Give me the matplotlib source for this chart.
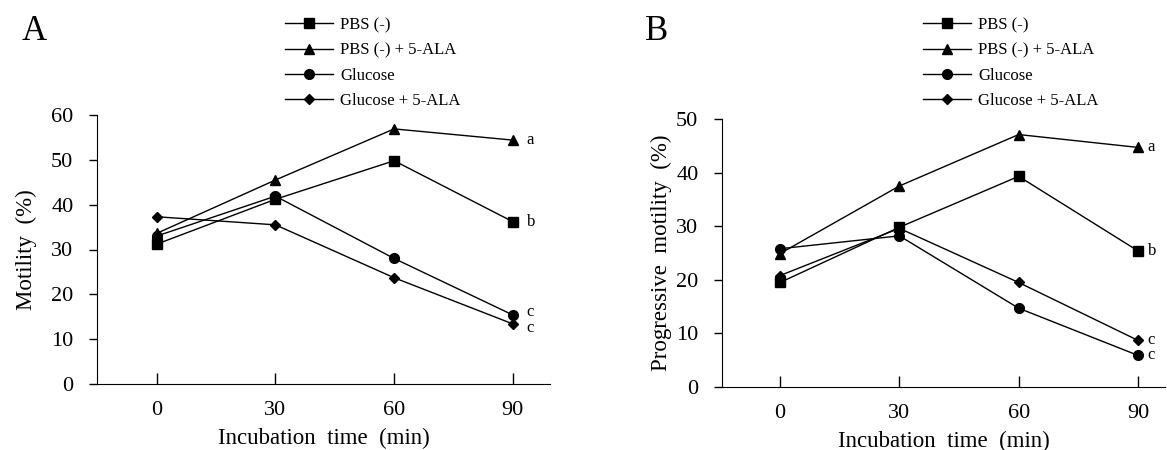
import matplotlib
matplotlib.use("Agg")
import matplotlib.pyplot as plt

plt.rcParams['font.family'] = ['Liberation Serif', 'DejaVu Serif']

# data
time = [0, 30, 60, 90]
series_names = ["PBS (-)", "PBS (-) + 5-ALA", "Glucose", "Glucose + 5-ALA"]
markers = ["s", "^", "o", "D"]
sizes = [6.5, 6.5, 7, 5.5]

# panel A: motility (%)
pbs_a = [31.2, 41.2, 49.8, 36.2]
pbs_ala_a = [33.6, 45.5, 56.9, 54.4]
glu_a = [33.0, 41.9, 28.0, 15.4]
glu_ala_a = [37.3, 35.5, 23.7, 13.4]
letters_a = ["b", "a", "c", "c"]

# panel B: progressive motility (%)
pbs_b = [19.5, 29.8, 39.3, 25.4]
pbs_ala_b = [24.9, 37.5, 47.1, 44.7]
glu_b = [25.8, 28.2, 14.7, 5.9]
glu_ala_b = [20.8, 29.6, 19.5, 8.7]
letters_b = ["b", "a", "c", "c"]

W, H = 1167, 450
fig = plt.figure(figsize=(W / 100, H / 100), dpi=100)


def panel(rect, data, letters, ylim, yticks, ylabel, xlim, lab_dx, lab_dy, legend_x, ylabelpad):
    ax = fig.add_axes(rect)
    handles = []
    for vals, m, ms, name in zip(data, markers, sizes, series_names):
        h, = ax.plot(time, vals, color="black", lw=1.0, marker=m, markersize=ms,
                     markerfacecolor="black", markeredgecolor="black", label=name)
        handles.append(h)
    for vals, let, dy in zip(data, letters, lab_dy):
        ax.annotate(let, (time[-1], vals[-1]), xytext=(lab_dx, dy), textcoords="offset points",
                    ha="left", va="center", fontsize=12)
    ax.set_xlim(*xlim)
    ax.set_ylim(*ylim)
    ax.set_xticks(time)
    ax.set_yticks(yticks)
    ax.spines["top"].set_visible(False)
    ax.spines["right"].set_visible(False)
    ax.spines["left"].set_bounds(ylim[0], ylim[1])
    ax.tick_params(axis="x", direction="in", length=8, width=1, pad=12, labelsize=16)
    ax.tick_params(axis="y", direction="out", length=6, width=1, pad=11, labelsize=16)
    ax.set_xlabel("Incubation  time  (min)", fontsize=16.5, labelpad=6)
    ax.set_ylabel(ylabel, fontsize=16.5, labelpad=ylabelpad)
    fig.legend(handles=handles, loc="upper left", bbox_to_anchor=(legend_x, 0.962),
               bbox_transform=fig.transFigure, frameon=False, fontsize=12,
               handlelength=2.85, handletextpad=0.45, labelspacing=0.56, borderpad=0,
               borderaxespad=0)
    return ax


panel([97 / W, 1 - 384 / H, 453 / W, 269 / H],
      [pbs_a, pbs_ala_a, glu_a, glu_ala_a], letters_a,
      (0, 60), range(0, 61, 10), "Motility  (%)", (-15.1, 99.4), 10, [0, 0, 2, -3],
      285 / W, 10)

panel([722 / W, 1 - 387 / H, 443 / W, 268 / H],
      [pbs_b, pbs_ala_b, glu_b, glu_ala_b], letters_b,
      (0, 50), range(0, 51, 10), "Progressive  motility  (%)", (-14.6, 96.8), 7, [0, 0, 0, 0],
      923 / W, 3)

fig.text(22 / W, 1 - 40 / H, "A", fontsize=25, va="baseline", ha="left")
fig.text(645 / W, 1 - 40 / H, "B", fontsize=25, va="baseline", ha="left")

fig.savefig("out.png", dpi=100)
